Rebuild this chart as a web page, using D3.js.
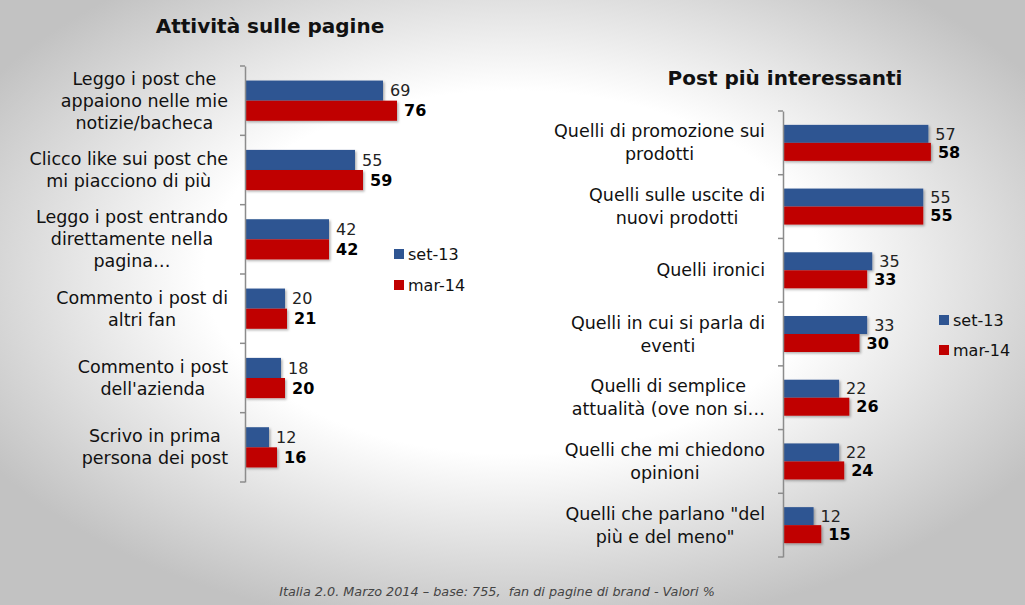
<!DOCTYPE html>
<html><head><meta charset="utf-8">
<script src="https://cdn.jsdelivr.net/npm/d3@7"></script>
<style>
html,body{margin:0;padding:0;}
svg{display:block;font-family:"DejaVu Sans",sans-serif;}
</style></head>
<body><svg id="c" width="1025" height="605"></svg>
<script>
const seriesNames = ["set-13", "mar-14"];
const seriesColors = ["#2F5592", "#C00000"];

const leftTitle = "Attività sulle pagine";
const leftCats = [
  "Leggo i post che\nappaiono nelle mie\nnotizie/bacheca",
  "Clicco like sui post che\nmi piacciono di più",
  "Leggo i post entrando\ndirettamente nella\npagina…",
  "Commento i post di\naltri fan",
  "Commento i post\ndell'azienda",
  "Scrivo in prima\npersona dei post"
];
const leftSet13 = [69, 55, 42, 20, 18, 12];
const leftMar14 = [76, 59, 42, 21, 20, 16];

const rightTitle = "Post più interessanti";
const rightCats = [
  "Quelli di promozione sui\nprodotti",
  "Quelli sulle uscite di\nnuovi prodotti",
  "Quelli ironici",
  "Quelli in cui si parla di\neventi",
  "Quelli di semplice\nattualità (ove non si…",
  "Quelli che mi chiedono\nopinioni",
  "Quelli che parlano \"del\npiù e del meno\""
];
const rightSet13 = [57, 55, 35, 33, 22, 22, 12];
const rightMar14 = [58, 55, 33, 30, 26, 24, 15];

const footer = "Italia 2.0. Marzo 2014 – base: 755,  fan di pagine di brand - Valori %";

const svg = d3.select("#c");
const defs = svg.append("defs");
const rg = defs.append("radialGradient").attr("id", "bg").attr("cx", "0.5").attr("cy", "0.45").attr("r", "0.6");
rg.append("stop").attr("offset", "0").attr("stop-color", "#ffffff");
rg.append("stop").attr("offset", "0.5").attr("stop-color", "#ffffff");
rg.append("stop").attr("offset", "1").attr("stop-color", "#c2c2c2");
const f = defs.append("filter").attr("id", "sh").attr("x", "-10%").attr("y", "-20%").attr("width", "130%").attr("height", "160%");
f.append("feDropShadow").attr("dx", 1.5).attr("dy", 1.5).attr("stdDeviation", 1).attr("flood-color", "#000").attr("flood-opacity", 0.3);

svg.append("rect").attr("width", 1025).attr("height", 605).attr("fill", "url(#bg)");

function panel(cfg) {
  const g = svg.append("g");
  const y = d3.scaleBand().domain(cfg.cats).range(cfg.yRange)
    .paddingInner(cfg.pad).paddingOuter(cfg.pad / 2);
  const ys = d3.scaleBand().domain(seriesNames).range([0, y.bandwidth()]);
  const x = d3.scaleLinear().domain([0, 100]).range(cfg.xRange);

  g.append("text").attr("x", cfg.titleX).attr("y", cfg.titleY).attr("text-anchor", "middle")
    .attr("font-size", 20).attr("font-weight", "bold").attr("fill", "#111").text(cfg.title);

  const data = cfg.cats.map((c, i) => ({ cat: c, vals: [cfg.s1[i], cfg.s2[i]] }));
  const rows = g.selectAll("g.row").data(data).join("g").attr("class", "row")
    .attr("transform", d => `translate(0,${y(d.cat)})`);

  rows.selectAll("rect").data(d => d.vals.map((v, k) => ({ v, k }))).join("rect")
    .attr("x", x(0)).attr("y", d => ys(seriesNames[d.k]))
    .attr("width", d => x(d.v) - x(0)).attr("height", ys.bandwidth())
    .attr("fill", d => seriesColors[d.k]).attr("filter", "url(#sh)");

  rows.selectAll("text.val").data(d => d.vals.map((v, k) => ({ v, k }))).join("text")
    .attr("class", "val")
    .attr("x", d => x(d.v) + 7).attr("y", d => ys(seriesNames[d.k]) + ys.bandwidth() / 2)
    .attr("dy", "0.36em").attr("font-size", 16)
    .attr("font-weight", d => d.k === 1 ? "bold" : "normal")
    .attr("fill", d => d.k === 1 ? "#000" : "#222").text(d => d.v);

  const ax = g.append("g").attr("transform", `translate(${x(0)},0)`)
    .call(d3.axisLeft(y).tickSize(0).tickFormat(""));
  ax.select(".domain").attr("stroke", "#8c8c8c").attr("stroke-width", 1.5);
  const bounds = cfg.cats.map(c => y(c) - y.step() * y.paddingInner() / 2);
  bounds.push(cfg.yRange[1]);
  bounds[0] = cfg.yRange[0];
  g.selectAll("line.tk").data(bounds).join("line").attr("class", "tk")
    .attr("x1", x(0) - 5).attr("x2", x(0)).attr("y1", d => d).attr("y2", d => d)
    .attr("stroke", "#8c8c8c").attr("stroke-width", 1.5);

  const lh = cfg.lineH;
  rows.each(function (d) {
    const lines = d.cat.split("\n");
    const t = d3.select(this).append("text").attr("font-size", cfg.labelSize).attr("fill", "#111")
      .attr("text-anchor", "middle");
    const cy = y.bandwidth() / 2;
    lines.forEach((ln, i) => {
      t.append("tspan").attr("x", 0).attr("y", cy + (i - (lines.length - 1) / 2) * lh).attr("dy", "0.35em").text(ln);
    });
    let w = 0;
    t.selectAll("tspan").each(function () { w = Math.max(w, this.getComputedTextLength()); });
    t.selectAll("tspan").attr("x", cfg.labelRight - w / 2);
  });

  const lg = g.selectAll("g.lg").data(seriesNames).join("g").attr("class", "lg")
    .attr("transform", (d, i) => `translate(${cfg.legX},${cfg.legY + i * cfg.legGap})`);
  lg.append("rect").attr("x", 0).attr("y", -5).attr("width", 10).attr("height", 10)
    .attr("fill", (d, i) => seriesColors[i]);
  lg.append("text").attr("x", 14).attr("dy", "0.36em").attr("font-size", 16).attr("fill", "#111").text(d => d);
}

panel({ title: leftTitle, titleX: 270, titleY: 33, cats: leftCats, s1: leftSet13, s2: leftMar14,
  yRange: [66, 482], pad: 0.42, xRange: [245, 445], labelRight: 228, labelSize: 17.5, lineH: 22,
  legX: 394, legY: 254, legGap: 31 });
panel({ title: rightTitle, titleX: 785, titleY: 85, cats: rightCats, s1: rightSet13, s2: rightMar14,
  yRange: [111, 557], pad: 0.435, xRange: [783, 1038], labelRight: 765, labelSize: 17.5, lineH: 23,
  legX: 939, legY: 320, legGap: 30 });

svg.append("text").attr("x", 497).attr("y", 596).attr("text-anchor", "middle")
  .attr("font-size", 12.8).attr("font-style", "italic").attr("fill", "#444")
  .style("white-space", "pre").text(footer);
</script></body></html>
